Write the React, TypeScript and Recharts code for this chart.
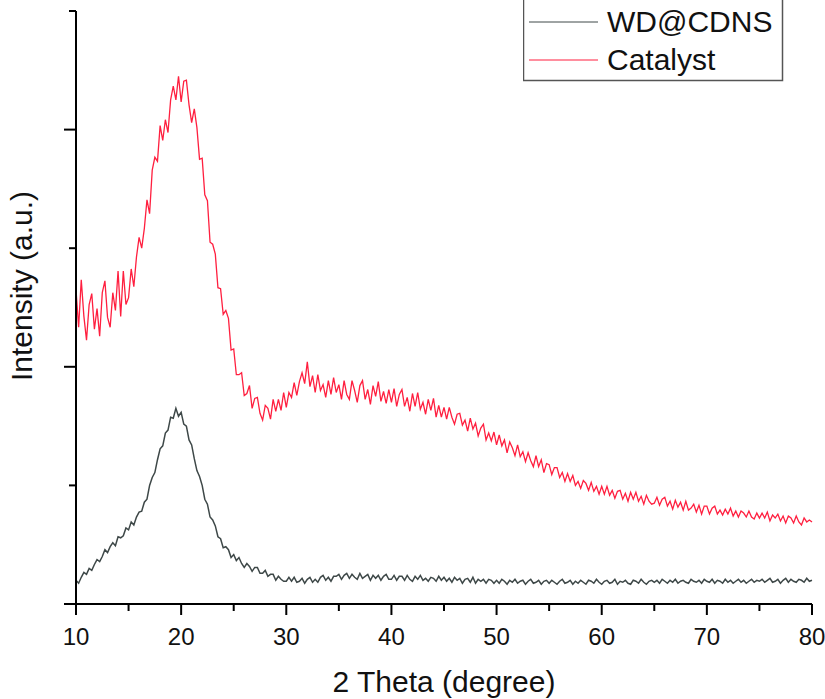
import React from 'react';
import { LineChart, Line, XAxis, YAxis, Legend, Label } from 'recharts';

// scan grid: 10° to 80°, 0.25° step
const thetaStart = 10;
const thetaStep = 0.25;

// Catalyst intensity (a.u.), one value per step
const catalyst = [
  318, 280, 328, 291, 267, 303, 314, 278, 299, 271, 315, 327, 290, 280, 315, 297, 337, 291, 337, 303,
  310, 339, 321, 351, 371, 360, 380, 409, 395, 439, 452, 448, 484, 469, 490, 477, 510, 524, 510, 534,
  508, 529, 530, 505, 487, 501, 482, 450, 451, 414, 408, 366, 364, 354, 320, 319, 293, 297, 289, 257,
  258, 232, 232, 234, 211, 213, 221, 198, 208, 209, 193, 186, 201, 198, 187, 207, 195, 207, 196, 214,
  199, 214, 209, 224, 211, 225, 234, 223, 245, 220, 231, 214, 232, 216, 222, 209, 226, 212, 229, 214,
  222, 207, 226, 212, 207, 226, 216, 204, 221, 226, 207, 217, 202, 221, 210, 225, 205, 215, 203, 217,
  204, 218, 200, 212, 217, 200, 209, 195, 213, 200, 214, 197, 204, 192, 207, 196, 208, 189, 201, 189,
  199, 187, 199, 189, 182, 192, 193, 181, 186, 175, 188, 177, 183, 170, 178, 182, 166, 173, 165, 174,
  161, 171, 160, 166, 153, 164, 158, 150, 161, 149, 154, 144, 153, 145, 139, 150, 139, 146, 133, 142,
  141, 131, 138, 138, 128, 133, 124, 132, 124, 130, 120, 124, 117, 125, 122, 115, 123, 114, 119, 111,
  119, 111, 119, 110, 115, 107, 114, 115, 106, 112, 104, 113, 106, 113, 104, 109, 101, 110, 104, 101,
  102, 108, 100, 106, 108, 99, 104, 96, 105, 98, 103, 95, 104, 95, 97, 101, 93, 100, 91, 99,
  99, 91, 97, 99, 91, 95, 90, 96, 91, 97, 89, 94, 88, 94, 92, 88, 94, 88, 86, 92,
  87, 92, 87, 93, 84, 90, 87, 91, 84, 89, 82, 89, 87, 82, 89, 83, 80, 87, 83, 85, 83,
];

// WD@CDNS intensity (a.u.)
const wdCdns = [
  24, 21, 27, 32, 30, 36, 34, 40, 45, 43, 48, 55, 52, 58, 62, 59, 68, 67, 69, 77,
  75, 83, 80, 88, 93, 94, 103, 106, 120, 128, 133, 146, 157, 160, 173, 176, 189, 188, 198, 190,
  194, 182, 180, 166, 161, 147, 135, 129, 120, 106, 101, 88, 85, 79, 68, 66, 57, 58, 55, 47,
  50, 44, 47, 41, 37, 41, 38, 33, 37, 37, 31, 31, 34, 28, 30, 30, 24, 28, 25, 23,
  23, 27, 23, 27, 22, 23, 26, 21, 25, 27, 22, 25, 22, 27, 29, 24, 27, 23, 28, 28,
  30, 25, 29, 31, 26, 30, 27, 25, 31, 26, 28, 30, 24, 29, 26, 29, 24, 28, 30, 25,
  25, 29, 24, 28, 28, 24, 29, 25, 23, 28, 25, 29, 24, 26, 23, 27, 26, 23, 28, 24,
  27, 23, 26, 22, 27, 24, 26, 21, 25, 26, 22, 27, 21, 25, 23, 25, 21, 25, 24, 21,
  24, 21, 25, 23, 20, 24, 22, 25, 21, 23, 24, 20, 23, 25, 21, 22, 24, 20, 23, 24,
  21, 24, 22, 20, 23, 25, 21, 22, 24, 20, 23, 21, 24, 22, 20, 24, 23, 21, 25, 22,
  20, 23, 24, 21, 22, 25, 20, 23, 22, 24, 21, 20, 24, 23, 21, 25, 22, 20, 23, 24,
  22, 24, 21, 25, 23, 21, 24, 22, 25, 21, 23, 24, 22, 21, 25, 23, 22, 24, 21, 25,
  23, 22, 25, 21, 24, 23, 21, 25, 22, 24, 21, 23, 25, 22, 24, 21, 23, 25, 22, 24,
  23, 25, 22, 24, 26, 22, 23, 25, 21, 24, 26, 22, 25, 23, 22, 25, 24, 22, 26, 23, 24,
];

const xTicks = [10, 15, 20, 25, 30, 35, 40, 45, 50, 55, 60, 65, 70, 75, 80];
const yTicks = [0, 120, 240, 360, 480, 600];

const data = catalyst.map((c, i) => ({
  t: thetaStart + i * thetaStep,
  cat: c,
  wd: wdCdns[i],
}));

const FONT = '"Liberation Sans", Arial, sans-serif';
const RED = '#ff1f3f';
const GRAY = '#3e4848';

const XTick = (props: any) => {
  const { x, y, payload } = props;
  const major = payload.value % 10 === 0;
  return (
    <g>
      <line x1={x} y1={y} x2={x} y2={y + (major ? 11 : 7)} stroke="#000" strokeWidth={2} />
      {major && (
        <text x={x} y={y + 41} textAnchor="middle" fontSize={24} fontFamily={FONT} fill="#111">
          {payload.value}
        </text>
      )}
    </g>
  );
};

const YTick = (props: any) => {
  const { x, y, payload } = props;
  const major = payload.value % 240 === 0;
  return <line x1={x} y1={y} x2={x - (major ? 12 : 7)} y2={y} stroke="#000" strokeWidth={2} />;
};

const LegendBox = () => (
  <svg width={262} height={84} style={{ display: 'block' }}>
    <rect x={0.5} y={-5} width={259} height={85.5} fill="#fff" stroke="#555" strokeWidth={1.5} />
    <line x1={6} y1={22} x2={75} y2={22} stroke={GRAY} strokeWidth={1} />
    <line x1={6} y1={60} x2={75} y2={60} stroke={RED} strokeWidth={1} />
    <text x={84} y={32} fontSize={30} fontFamily={FONT} fill="#111">WD@CDNS</text>
    <text x={84} y={70} fontSize={30} fontFamily={FONT} fill="#111">Catalyst</text>
  </svg>
);

export default function App() {
  return (
    <div style={{ position: 'absolute', left: 0, top: 0, background: '#fff' }}>
      <LineChart width={825} height={699} data={data} margin={{ top: 11, right: 13, bottom: 0, left: 0 }}>
        <XAxis
          dataKey="t"
          type="number"
          domain={[10, 80]}
          ticks={xTicks}
          interval={0}
          height={95}
          tickSize={0}
          tickMargin={0}
          tick={<XTick />}
          tickLine={false}
          axisLine={{ stroke: '#000', strokeWidth: 2 }}
        >
          <Label
            content={(p: any) => (
              <text
                x={p.viewBox.x + p.viewBox.width / 2}
                y={692}
                textAnchor="middle"
                fontSize={30}
                fontFamily={FONT}
                fill="#111"
              >
                2 Theta (degree)
              </text>
            )}
          />
        </XAxis>
        <YAxis
          type="number"
          domain={[0, 600]}
          ticks={yTicks}
          interval={0}
          width={76}
          tickSize={0}
          tickMargin={0}
          tick={<YTick />}
          tickLine={false}
          axisLine={{ stroke: '#000', strokeWidth: 2 }}
        >
          <Label
            content={() => (
              <text
                x={32}
                y={286}
                transform="rotate(-90 32 286)"
                textAnchor="middle"
                fontSize={30}
                fontFamily={FONT}
                fill="#111"
              >
                Intensity (a.u.)
              </text>
            )}
          />
        </YAxis>
        <Legend
          layout="vertical"
          align="center"
          verticalAlign="middle"
          content={<LegendBox />}
          wrapperStyle={{ position: 'absolute', left: 523, top: 0, width: 262, height: 84 }}
        />
        <Line
          dataKey="cat"
          name="Catalyst"
          type="linear"
          stroke={RED}
          strokeWidth={1.3}
          dot={false}
          isAnimationActive={false}
        />
        <Line
          dataKey="wd"
          name="WD@CDNS"
          type="linear"
          stroke={GRAY}
          strokeWidth={1.5}
          dot={false}
          isAnimationActive={false}
        />
      </LineChart>
    </div>
  );
}
